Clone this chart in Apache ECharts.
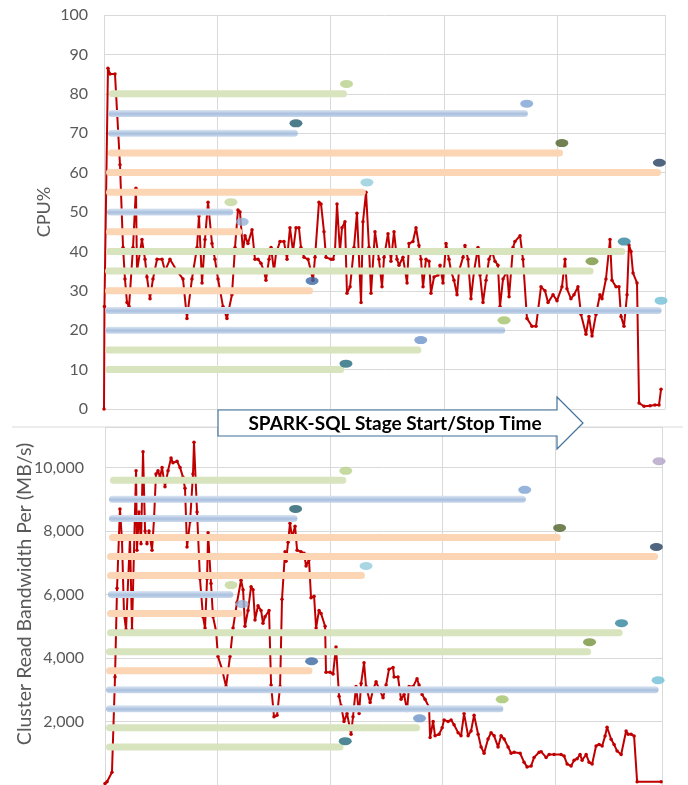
<!DOCTYPE html>
<html lang="en">
<head>
    <meta charset="UTF-8">
    <title>SPARK-SQL CPU / Read Bandwidth</title>
    <script src="https://cdn.jsdelivr.net/npm/echarts@6/dist/echarts.min.js"></script>
    <style>
        html, body {margin: 0; padding: 0; background: #fff;}
        #main {width: 688px; height: 785px;}
    </style>
</head>
<body>
<div id="main"></div>
<script type="text/javascript">
    // red line, top chart: [time, CPU%]
    var cpuSamples = [
        [0, 0], [0.4, 26], [3.5, 86.5], [5.3, 85], [9.7, 85], [14.1, 62], [16.8, 41], [18.5, 33], [20.3, 27], [22.1, 26],
        [25.6, 41], [28.2, 56], [29.1, 35], [33.5, 43], [36.2, 38], [37.9, 33.5], [40.6, 28], [43.2, 33], [46.8, 38], [51.2, 38],
        [53.8, 35], [58.2, 38], [64.4, 35], [69.7, 33], [73.2, 23], [77.6, 33], [82.1, 41], [83.8, 49], [86.5, 32], [89.1, 43],
        [91.8, 52.5], [95.3, 42], [97.9, 38], [100.6, 33], [105, 26], [108.5, 23], [112.9, 29], [115.6, 41], [118.2, 50.5], [120, 50],
        [122.6, 40], [124.4, 44], [127, 42], [130.6, 45.5], [133.2, 38], [135.9, 38], [138.5, 37], [141.2, 35], [142.9, 32.7], [145.6, 38],
        [147.4, 41], [150, 35], [151.8, 39.5], [155.3, 42.5], [158.8, 42.5], [161.5, 38], [164.1, 46], [166.8, 40], [169.4, 46], [172, 46],
        [173.8, 41], [176.5, 38.5], [180, 38], [182.6, 35], [184.4, 32.7], [186.2, 38.5], [189.7, 52.5], [191.5, 52], [194.1, 45], [195.9, 38.5],
        [200.3, 38], [202.1, 38], [203.8, 40], [205.6, 52], [208.2, 40], [210, 46], [212.6, 47.5], [214.4, 29.4], [217.1, 31], [220.6, 41],
        [223.2, 49.7], [226.8, 27], [228.5, 47.5], [231.2, 55], [233.8, 41], [235.6, 29.4], [239.1, 45], [242.6, 38], [245.3, 31], [247.1, 38.5],
        [250.6, 44.5], [253.2, 37.5], [255.9, 45], [258.5, 38], [260.3, 36.5], [263.8, 38.5], [267.4, 32], [269.1, 42], [272.6, 42.5], [275.3, 46],
        [277.9, 41.5], [279.7, 38], [281.5, 31], [284.1, 38], [286.8, 37.5], [288.5, 29.4], [291.2, 33.5], [294.7, 34], [296.5, 36.5], [299.1, 32],
        [301.8, 42], [304.4, 38], [306.2, 35], [308.8, 32.7], [311.5, 29], [313.2, 35], [316.8, 38.5], [318.5, 41.5], [321.2, 38], [323.8, 28],
        [326.5, 35], [330, 41], [331.8, 34], [334.4, 27], [337.1, 32.7], [339.7, 38], [342.4, 40], [345, 37.5], [347.6, 36.5], [349.4, 26],
        [352.1, 33], [355.6, 35], [357.4, 28.5], [360.9, 41], [362.6, 42.5], [367.1, 44], [369.7, 38], [373.2, 23], [377.6, 21], [381.2, 21],
        [385.6, 31], [389.1, 30], [391.8, 27], [396.2, 29], [399.7, 27.5], [404.1, 31], [406.8, 38], [408.5, 30.5], [412, 28], [414.7, 29],
        [418.2, 31], [420.9, 24], [425.3, 19], [427.9, 23.5], [430.6, 18.5], [434.1, 24], [437.6, 29], [439.4, 28], [442.9, 33], [446.5, 43],
        [448.2, 32.7], [451.8, 31], [454.4, 31], [456.2, 23.5], [458.8, 21], [461.5, 29], [463.2, 41.6], [465, 40], [466.8, 34.5], [470.3, 32],
        [472.1, 1.5], [476.5, 0.7], [481.8, 0.8], [486.2, 1], [489.7, 1], [491.5, 5]
    ];

    // red line, bottom chart: [time, MB/s]
    var bwSamples = [
        [0, 50], [1.8, 100], [6.2, 400], [8.9, 3400], [10.7, 6200], [13.3, 8700], [15.1, 7700], [16.9, 5400], [18.7, 4900], [22.2, 7800],
        [24, 4900], [27.6, 9900], [28.4, 7400], [30.2, 8600], [32, 7600], [33.8, 10500], [35.6, 8000], [37.3, 7600], [39.1, 8000], [41.8, 7400],
        [43.6, 8400], [45.3, 9800], [47.1, 9900], [48.9, 9700], [50.7, 10000], [53.3, 9400], [56, 9900], [58.7, 10300], [60.4, 10150], [64, 10200],
        [66.7, 10000], [69.3, 9700], [71.1, 9350], [72.9, 7500], [75.6, 8300], [78.2, 9800], [79.1, 10800], [81.8, 8600], [84.4, 6500], [87.1, 5300],
        [88.9, 4950], [90.7, 6500], [91.6, 7950], [94.2, 6350], [96, 5300], [98.7, 4850], [100.4, 4050], [104, 3650], [107.6, 3100], [111.1, 4050],
        [113.8, 4950], [117.3, 5750], [120.9, 6450], [122.7, 6150], [124.4, 5000], [127.1, 5500], [129.8, 6250], [131.6, 6150], [133.3, 5200], [136, 5650],
        [138.7, 5500], [140.4, 5100], [142.2, 5300], [145.8, 5500], [147.6, 3150], [150.2, 2150], [152.9, 2200], [155.6, 3100], [157.3, 5850], [160, 7350],
        [160.9, 7050], [162.7, 7650], [164.4, 8250], [166.2, 7800], [168.9, 8150], [170.7, 7400], [174.2, 7350], [176.9, 7300], [178.7, 6900], [181.3, 7100],
        [183.1, 5900], [185.8, 5950], [187.6, 4950], [190.2, 5500], [192, 5400], [195.6, 5000], [196.4, 3550], [200, 3550], [202.7, 3500], [205.3, 4350],
        [208, 2800], [209.8, 2500], [212.4, 2000], [215.1, 2250], [218.7, 1600], [220.4, 2150], [223.1, 3100], [225.8, 2250], [227.6, 3200], [230.2, 3850],
        [232, 3100], [235.6, 2600], [238.2, 3000], [240.9, 3250], [247.1, 2750], [249.8, 3150], [252.4, 3650], [256, 3700], [256.9, 3400], [260.4, 3400],
        [263.1, 2700], [265.8, 2850], [268.4, 2350], [270.2, 3100], [273.8, 3100], [277.3, 3350], [279.1, 3150], [281.8, 2850], [284.4, 2700], [288, 2450],
        [288.9, 1500], [291.6, 2000], [293.3, 1550], [296.9, 1600], [299.6, 1800], [301.3, 2050], [304.9, 2000], [307.6, 2050], [310.2, 1900], [313.8, 1650],
        [316.4, 1550], [319.1, 2250], [322.7, 1550], [325.3, 1700], [328, 2200], [331.6, 1600], [334.2, 1200], [336.9, 1000], [340.4, 1450], [343.1, 1650],
        [345.8, 1550], [349.3, 1200], [352, 1550], [354.7, 1450], [358.2, 1200], [360.9, 1000], [363.6, 1030], [368.9, 1000], [372.4, 720], [375.1, 570],
        [378.7, 600], [381.3, 870], [385.8, 1030], [387.6, 1050], [392, 870], [394.7, 960], [399.1, 960], [405.3, 960], [408, 910], [410.7, 660],
        [414.2, 600], [416.9, 780], [419.6, 830], [422.2, 960], [424, 780], [427.6, 960], [430.2, 720], [432.9, 660], [436.4, 1230], [439.1, 1280],
        [441.8, 1230], [444.4, 1540], [446.2, 1820], [449.8, 1440], [452.4, 1280], [455.1, 1070], [458.7, 960], [463.1, 1700], [464.9, 1600], [467.6, 1600],
        [470.2, 1540], [472.9, 100], [494.2, 100]
    ];

    // SPARK-SQL stages: row level (in CPU% units), start / stop time, bar kind
    var stageLevel = [80, 75, 70, 65, 60, 55, 50, 45, 40, 35, 30, 25, 20, 15, 10];
    var stageStart = [4.4, 3.5, 3.5, 3.5, 1.8, 1.8, 2.6, 1.8, 1.8, 0.9, 0.9, 0.9, 0.9, 0.9, 0.9];
    var stageEnd = [214.4, 374, 171, 405, 491.5, 231, 114, 122, 460, 432, 184.4, 492, 354, 280, 212];
    var stageKind = ['g', 'b', 'b', 'o', 'o', 'o', 'b', 'o', 'g', 'g', 'o', 'b', 'b', 'g', 'g'];
    // stop markers
    var doneTime = [214, 373, 169.4, 404, 490, 232, 112, 122, 459, 430.6, 183.6, 491.5, 353, 279.5, 213.5];
    var doneLevel = [82.5, 77.5, 72.5, 67.5, 62.5, 57.5, 52.5, 47.5, 42.5, 37.5, 32.5, 27.5, 22.5, 17.5, 11.5];
    // one extra marker only shown on the bandwidth chart
    var extraDoneTime = [492.4];
    var extraDoneLevel = [85];
    // stage rows in the bandwidth chart: 1 level = 120 MB/s
    var bwPerLevel = 120;

    var kindFill = {
        g: '#d7e4bd',
        o: '#fcd5b5',
        b: {
            type: 'linear', x: 0, y: 0, x2: 0, y2: 1,
            colorStops: [{offset: 0, color: '#dce6f2'}, {offset: 0.55, color: '#a8bfde'}, {offset: 1, color: '#ccdaec'}]
        }
    };
    var dotColors = ['#b7cf8a', '#7da3d3', '#215d6e', '#4f6228', '#243f60', '#92cddc', '#c3d69b', '#95b3d7',
        '#31859c', '#77933c', '#3a67a3', '#6fbfd6', '#a3c36c', '#6c93c9', '#22697a'];
    var extraColors = ['#b3a2c7'];

    var gray = '#595959';
    var gridColor = '#d9d9d9';
    var font = 'Lato, "Liberation Sans", sans-serif';

    function barData(scale) {
        return stageStart.map(function (s, i) {
            return [s, stageEnd[i], stageLevel[i] * scale];
        });
    }

    function dotData(scale, withExtra) {
        var res = doneTime.map(function (t, i) {
            return {value: [t, doneLevel[i] * scale], itemStyle: {color: dotColors[i]}};
        });
        if (withExtra) {
            extraDoneTime.forEach(function (t, i) {
                res.push({value: [t, extraDoneLevel[i] * scale], itemStyle: {color: extraColors[i]}});
            });
        }
        return res;
    }

    function renderStage(params, api) {
        var a = api.coord([api.value(0), api.value(2)]);
        var b = api.coord([api.value(1), api.value(2)]);
        var h = 7;
        return {
            type: 'rect',
            shape: {x: a[0], y: a[1] - h / 2, width: b[0] - a[0], height: h, r: h / 2},
            style: {fill: kindFill[stageKind[params.dataIndex]]}
        };
    }

    function xAxis(gi) {
        return {
            type: 'value', gridIndex: gi, min: 0, max: 495, interval: 100,
            axisLabel: {show: false}, axisTick: {show: false},
            axisLine: {show: true, lineStyle: {color: gridColor}},
            splitLine: {show: true, lineStyle: {color: gridColor, width: 1}}
        };
    }

    var myChart = echarts.init(document.getElementById('main'));
    var option = {
        animation: false,
        backgroundColor: '#fff',
        grid: [
            {left: 104, top: 15, width: 561, height: 394},
            {left: 105, top: 427, width: 557, height: 359}
        ],
        xAxis: [xAxis(0), xAxis(1)],
        yAxis: [
            {
                type: 'value', gridIndex: 0, min: 0, max: 100, interval: 10,
                axisLine: {show: false}, axisTick: {show: false},
                axisLabel: {color: gray, fontSize: 16, fontFamily: font, margin: 16},
                splitLine: {lineStyle: {color: gridColor}}
            },
            {
                type: 'value', gridIndex: 1, min: 0, max: 11280, interval: 2000,
                axisLine: {show: false}, axisTick: {show: false},
                axisLabel: {
                    color: gray, fontSize: 16, fontFamily: font, margin: 21,
                    showMinLabel: false, showMaxLabel: false,
                    formatter: function (v) {
                        return v.toLocaleString('en-US');
                    }
                },
                splitLine: {lineStyle: {color: gridColor}}
            }
        ],
        series: [
            {
                type: 'line', xAxisIndex: 0, yAxisIndex: 0, data: cpuSamples, z: 2,
                symbol: 'circle', symbolSize: 3.5, showSymbol: true,
                itemStyle: {color: '#c00000'}, lineStyle: {color: '#c00000', width: 2}
            },
            {
                type: 'line', xAxisIndex: 1, yAxisIndex: 1, data: bwSamples, z: 2,
                symbol: 'circle', symbolSize: 3.5, showSymbol: true,
                itemStyle: {color: '#c00000'}, lineStyle: {color: '#c00000', width: 2}
            },
            {
                type: 'custom', xAxisIndex: 0, yAxisIndex: 0, z: 3,
                renderItem: renderStage, encode: {x: [0, 1], y: 2}, data: barData(1)
            },
            {
                type: 'custom', xAxisIndex: 1, yAxisIndex: 1, z: 3,
                renderItem: renderStage, encode: {x: [0, 1], y: 2}, data: barData(bwPerLevel)
            },
            {
                type: 'scatter', xAxisIndex: 0, yAxisIndex: 0, z: 4,
                symbol: 'circle', symbolSize: [13, 8], data: dotData(1, false)
            },
            {
                type: 'scatter', xAxisIndex: 1, yAxisIndex: 1, z: 4,
                symbol: 'circle', symbolSize: [13, 8], data: dotData(bwPerLevel, true)
            }
        ],
        graphic: [
            {
                type: 'line', z: 1, silent: true,
                shape: {x1: 12, y1: 427, x2: 683, y2: 427},
                style: {stroke: gridColor, lineWidth: 1}
            },
            {
                type: 'text', z: 100, x: 44, y: 212, rotation: Math.PI / 2,
                style: {text: 'CPU%', fontSize: 18, fontFamily: font, fill: gray, align: 'center', verticalAlign: 'middle'}
            },
            {
                type: 'text', z: 100, x: 25, y: 594, rotation: Math.PI / 2,
                style: {
                    text: 'Cluster Read Bandwidth Per (MB/s)', fontSize: 19.5, fontFamily: font, fill: gray,
                    align: 'center', verticalAlign: 'middle'
                }
            },
            {
                type: 'polygon', z: 100,
                shape: {points: [[218, 410], [557, 410], [557, 397], [583, 423], [557, 449], [557, 436], [218, 436]]},
                style: {fill: '#fff', stroke: '#41719c', lineWidth: 1.2}
            },
            {
                type: 'text', z: 101, x: 395, y: 424,
                style: {
                    text: 'SPARK-SQL Stage Start/Stop Time', fontSize: 19, fontWeight: 'bold', fontFamily: font,
                    fill: '#000', align: 'center', verticalAlign: 'middle'
                }
            }
        ]
    };
    myChart.setOption(option);
</script>
</body>
</html>
